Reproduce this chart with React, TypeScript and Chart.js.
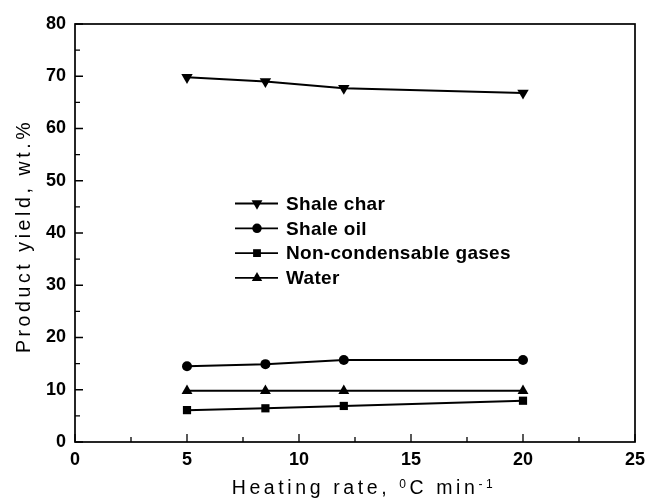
import React, { useEffect, useRef } from 'react';
import { Chart, registerables } from 'chart.js';

Chart.register(...registerables);

const heatingRates = [5, 8.5, 12, 20];
const shaleChar = [69.8, 69.0, 67.7, 66.8];
const shaleOil = [14.5, 14.9, 15.7, 15.7];
const nonCondGases = [6.1, 6.45, 6.9, 7.9];
const water = [9.8, 9.8, 9.8, 9.8];
const seriesLabels = ['Shale char', 'Shale oil', 'Non-condensable gases', 'Water'];
const xMajorTicks = [0, 5, 10, 15, 20, 25];
const xMinorTicks = [2.5, 7.5, 12.5, 17.5, 22.5];
const yMajorTicks = [0, 10, 20, 30, 40, 50, 60, 70, 80];
const yMinorTicks = [5, 15, 25, 35, 45, 55, 65, 75];
const xTitleParts = [
  { text: 'Heating rate, ', sup: false },
  { text: '0', sup: true },
  { text: 'C min', sup: false },
  { text: '-1', sup: true },
];
const yTitle = 'Product yield, wt.%';

const FONT = '"Liberation Sans", Arial, Helvetica, sans-serif';

function drawMarker(ctx: CanvasRenderingContext2D, style: string, rot: number, x: number, y: number, r: number) {
  ctx.beginPath();
  if (style === 'circle') {
    ctx.arc(x, y, r, 0, Math.PI * 2);
  } else if (style === 'rect') {
    const s = r * Math.SQRT1_2;
    ctx.rect(x - s, y - s, 2 * s, 2 * s);
  } else if (style === 'triangle') {
    let a = (rot * Math.PI) / 180;
    for (let k = 0; k < 3; k++) {
      const px = x + Math.sin(a) * r;
      const py = y - Math.cos(a) * r;
      if (k === 0) ctx.moveTo(px, py);
      else ctx.lineTo(px, py);
      a += (2 * Math.PI) / 3;
    }
    ctx.closePath();
  }
  ctx.fill();
}

const framePlugin = {
  id: 'frameTicks',
  beforeDatasetsDraw(chart: any) {
    const { ctx, chartArea } = chart;
    const { left, right, top, bottom } = chartArea;
    const xs = chart.scales.x;
    const ys = chart.scales.y;
    ctx.save();
    ctx.strokeStyle = '#000';
    ctx.lineWidth = 1.7;
    ctx.strokeRect(left, top, right - left, bottom - top);
    ctx.lineWidth = 1.3;
    ctx.beginPath();
    xMajorTicks.forEach((v) => {
      const px = xs.getPixelForValue(v);
      ctx.moveTo(px, bottom);
      ctx.lineTo(px, bottom - 8);
    });
    xMinorTicks.forEach((v) => {
      const px = xs.getPixelForValue(v);
      ctx.moveTo(px, bottom);
      ctx.lineTo(px, bottom - 5);
    });
    yMajorTicks.forEach((v) => {
      const py = ys.getPixelForValue(v);
      ctx.moveTo(left, py);
      ctx.lineTo(left + 8, py);
    });
    yMinorTicks.forEach((v) => {
      const py = ys.getPixelForValue(v);
      ctx.moveTo(left, py);
      ctx.lineTo(left + 5, py);
    });
    ctx.stroke();
    ctx.restore();
  },
};

const legendPlugin = {
  id: 'insideLegend',
  afterDraw(chart: any) {
    const { ctx, chartArea } = chart;
    const x0 = chartArea.left + 160;
    const y0 = chartArea.top + 179.5;
    ctx.save();
    chart.data.datasets.forEach((ds: any, i: number) => {
      const y = y0 + i * 24.8;
      ctx.strokeStyle = '#000';
      ctx.fillStyle = '#000';
      ctx.lineWidth = 1.8;
      ctx.beginPath();
      ctx.moveTo(x0, y);
      ctx.lineTo(x0 + 43, y);
      ctx.stroke();
      drawMarker(ctx, ds.pointStyle, ds.pointRotation || 0, x0 + 22, y, ds.pointRadius * 0.95);
      ctx.font = `bold 19px ${FONT}`;
      (ctx as any).letterSpacing = '0.3px';
      ctx.textAlign = 'left';
      ctx.textBaseline = 'middle';
      ctx.fillText(ds.label, x0 + 51, y + 1);
    });
    ctx.restore();
  },
};

const titlesPlugin = {
  id: 'axisTitles',
  afterDraw(chart: any) {
    const { ctx, chartArea } = chart;
    ctx.save();
    ctx.fillStyle = '#000';
    (ctx as any).letterSpacing = '3.6px';
    ctx.textBaseline = 'alphabetic';
    ctx.textAlign = 'left';
    // X title
    const big = `19.5px ${FONT}`;
    const small = `12px ${FONT}`;
    let total = 0;
    xTitleParts.forEach((p) => {
      ctx.font = p.sup ? small : big;
      total += ctx.measureText(p.text).width;
    });
    let x = (chartArea.left + chartArea.right) / 2 + 9 - total / 2;
    const base = 494;
    xTitleParts.forEach((p) => {
      ctx.font = p.sup ? small : big;
      ctx.fillText(p.text, x, p.sup ? base - 6 : base);
      x += ctx.measureText(p.text).width;
    });
    // Y title
    ctx.font = big;
    ctx.translate(30, (chartArea.top + chartArea.bottom) / 2 + 3);
    ctx.rotate(-Math.PI / 2);
    ctx.textAlign = 'center';
    ctx.fillText(yTitle, 0, 0);
    ctx.restore();
  },
};

export default function App() {
  const ref = useRef<HTMLCanvasElement | null>(null);

  useEffect(() => {
    if (!ref.current) return;
    const mk = (vals: number[]) => heatingRates.map((x, i) => ({ x, y: vals[i] }));
    const common = {
      borderColor: '#000',
      backgroundColor: '#000',
      pointBackgroundColor: '#000',
      pointBorderColor: '#000',
      pointBorderWidth: 0,
      borderWidth: 2,
      tension: 0,
      fill: false,
    };
    const tickFont = { family: FONT, size: 18, weight: 'bold' as const };
    const chart = new Chart(ref.current, {
      type: 'line',
      data: {
        datasets: [
          { ...common, label: seriesLabels[0], data: mk(shaleChar), pointStyle: 'triangle', pointRotation: 180, pointRadius: 6.6 },
          { ...common, label: seriesLabels[1], data: mk(shaleOil), pointStyle: 'circle', pointRadius: 5 },
          { ...common, label: seriesLabels[2], data: mk(nonCondGases), pointStyle: 'rect', pointRadius: 5.8 },
          { ...common, label: seriesLabels[3], data: mk(water), pointStyle: 'triangle', pointRadius: 6.3 },
        ] as any,
      },
      options: {
        responsive: false,
        animation: false,
        layout: { padding: { top: 24, right: 12, left: 0, bottom: 0 } },
        plugins: { legend: { display: false }, tooltip: { enabled: false } },
        scales: {
          x: {
            type: 'linear',
            min: 0,
            max: 25,
            ticks: { stepSize: 5, font: tickFont, color: '#000', padding: 7, maxRotation: 0, autoSkip: false },
            grid: { display: false, drawTicks: false },
            border: { display: false },
            afterFit: (s: any) => {
              s.height = 57;
              s.paddingLeft = 0;
              s.paddingRight = 0;
            },
          },
          y: {
            type: 'linear',
            min: 0,
            max: 80,
            ticks: { stepSize: 10, font: tickFont, color: '#000', padding: 9 },
            grid: { display: false, drawTicks: false },
            border: { display: false },
            afterFit: (s: any) => {
              s.width = 75;
              s.paddingTop = 0;
              s.paddingBottom = 0;
            },
          },
        },
      } as any,
      plugins: [framePlugin, legendPlugin, titlesPlugin],
    });
    return () => chart.destroy();
  }, []);

  return (
    <div style={{ position: 'absolute', left: 0, top: 0, width: 647, height: 499, background: '#fff' }}>
      <canvas ref={ref} width={647} height={499} style={{ width: 647, height: 499, display: 'block' }} />
    </div>
  );
}
